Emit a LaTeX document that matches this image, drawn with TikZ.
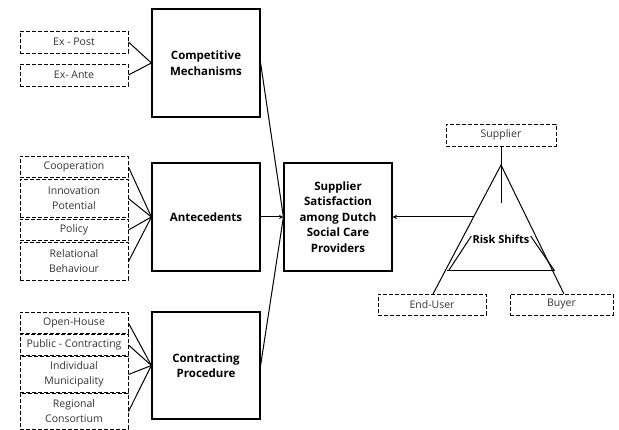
\documentclass[tikz,border=0pt]{standalone}
\usepackage{fontspec}
\setmainfont{Open Sans}

\begin{document}
\begin{tikzpicture}[x=1pt, y=-1pt, >=stealth,
  mainbox/.style={draw, line width=1.2pt, minimum width=108pt, minimum height=108pt,
    align=center, font=\bfseries\fontsize{11.5}{15.6}\selectfont},
  subbox/.style={draw, line width=0.9pt, dash pattern=on 4pt off 2pt, minimum width=108pt,
    inner sep=0pt, align=center, text=black!80, font=\fontsize{10.5}{15}\selectfont},
  link/.style={line width=1pt}]
  % Canvas
  \useasboundingbox (0,0) rectangle (619,430);

  % Main boxes
  \node[mainbox] (comp) at (206,63) {Competitive\\Mechanisms};
  \node[mainbox] (ante) at (206,217) {Antecedents};
  \node[mainbox, minimum height=107pt] (contr) at (206,365.5) {Contracting\\Procedure};
  \node[mainbox] (sat) at (338,217) {Supplier\\Satisfaction\\among Dutch\\Social Care\\Providers};

  % Competitive mechanisms
  \node[subbox, minimum height=22pt] (expost) at (74,42) {Ex - Post};
  \node[subbox, minimum height=22pt] (exante) at (74,75) {Ex- Ante};

  % Antecedents
  \node[subbox, minimum height=21pt] (coop) at (74,167) {Cooperation};
  \node[subbox, minimum height=38pt] (innov) at (74,198.5) {Innovation\\Potential};
  \node[subbox, minimum height=21pt] (policy) at (74,230) {Policy};
  \node[subbox, minimum height=38pt] (relat) at (74,261.5) {Relational\\Behaviour};

  % Contracting procedure
  \node[subbox, minimum height=21pt] (openh) at (74,323) {Open-House};
  \node[subbox, minimum height=21pt] (public) at (74,345) {Public - Contracting};
  \node[subbox, minimum height=36pt] (indiv) at (74,374.5) {Individual\\Municipality};
  \node[subbox, minimum height=36pt] (region) at (74,411.5) {Regional\\Consortium};

  % Links into the main boxes
  \foreach \s in {expost, exante}
    \draw[link] (\s.east) -- (comp.west);
  \foreach \s in {coop, innov, policy, relat}
    \draw[link] (\s.east) -- (ante.west);
  \foreach \s in {openh, public, indiv, region}
    \draw[link] (\s.east) -- (contr.west);

  % Links into supplier satisfaction
  \draw[link] (comp.east) -- (sat.west);
  \draw[link] (contr.east) -- (sat.west);
  \draw[link, ->] (ante.east) -- (sat.west);

  % Risk shift triangle
  \node[subbox, minimum width=110pt, minimum height=22pt] (supp) at (501,135) {Supplier};
  \node[subbox, minimum height=21pt] (enduser) at (432,304.5) {End-User};
  \node[subbox, minimum width=103pt, minimum height=21pt] (buyer) at (561.5,304.5) {Buyer};
  \node[font=\bfseries\fontsize{11}{12}\selectfont, inner sep=1pt] (risk) at (501,239) {Risk Shifts};

  \coordinate (apex) at (501,165);
  \coordinate (stem) at (501,203);
  \coordinate (bl) at (447,271);
  \coordinate (br) at (555,271);
  \coordinate (eu) at (433,294);
  \coordinate (bu) at (564,294);
  \coordinate (tap) at (473.5,217);

  \draw[link] (eu) -- (apex) -- (bu);
  \draw[link] (bl) -- (br);
  \draw[link] (supp.south) -- (stem);
  \draw[link] (risk.west) ++(0,-3) -- (449,270);
  \draw[link] (risk.east) ++(0,-3) -- (554,270);
  \draw[link, ->] (tap) -- (sat.east);
\end{tikzpicture}
\end{document}
